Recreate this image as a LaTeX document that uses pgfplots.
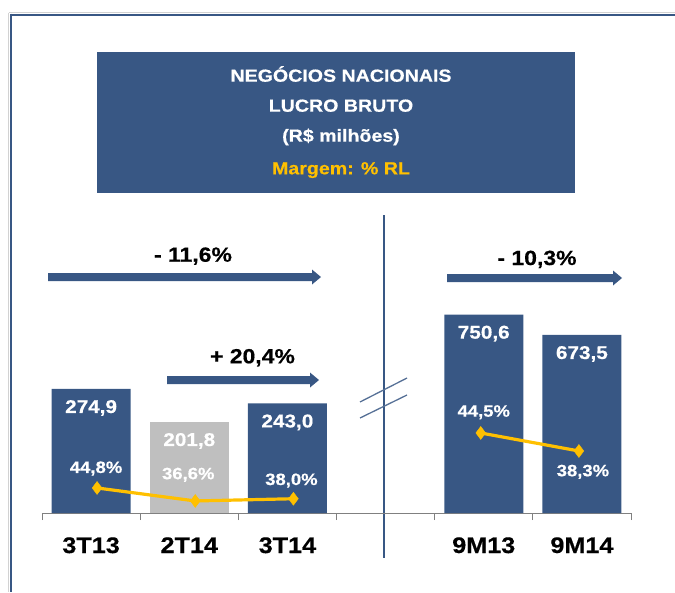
\documentclass[border=0pt]{standalone}
\usepackage{pgfplots}
\pgfplotsset{compat=1.18}
\usepackage{pgfplotstable}
\usepackage{fontspec}
\setmainfont{Liberation Sans}[FakeStretch=1.12, BoldFeatures={FakeBold=0.5}]

\definecolor{azul}{RGB}{56,87,132}
\definecolor{cinza}{RGB}{191,191,191}
\definecolor{ouro}{RGB}{255,192,0}

% lucro bruto (R$ milhoes)
\pgfplotstableread{
x v
0 274.9
2 243.0
}\lbazul
\pgfplotstableread{
x v
1 201.8
}\lbcinza
\pgfplotstableread{
x v
4 750.6
5 673.5
}\lbnove

% margem (% RL); dx/dy = deslocamento do rotulo
\pgfplotstableread{
x m dx dy
0 44.8 -1 15
1 36.6 -7 21.7
2 38.0 -2 13.7
}\mgtri
\pgfplotstableread{
x m dx dy
4 44.5 3 16.3
5 38.3 4 -25.3
}\mgnove

\pgfkeys{/pgf/number format/.cd, fixed, fixed zerofill, precision=1, use comma, assume math mode=true}

\pgfplotsset{
  painel/.style={scale only axis, width=589pt, height=240pt,
    xmin=-0.5, xmax=5.5, enlargelimits=false, clip=false, anchor=south west},
  barra/.style={draw=none, fill=#1, bar width=79pt, bar shift=0pt,
    nodes near coords,
    every node near coord/.append style={font=\fontsize{18.5}{21}\selectfont\bfseries,
      text=white, anchor=base, yshift=-24pt}},
  margem/.style={color=ouro, line width=3.2pt, mark=diamond*, mark size=6.5pt,
    mark options={solid, line width=0.4pt, fill=ouro},
    nodes near coords={\pgfmathprintnumber{\pgfplotspointmeta}\%},
    visualization depends on={\thisrow{dx} \as \rdx},
    visualization depends on={\thisrow{dy} \as \rdy},
    every node near coord/.append style={font=\fontsize{16.5}{19}\selectfont\bfseries,
      text=white, anchor=base, xshift=\rdx pt, yshift=\rdy pt}},
}

\begin{document}
\begin{tikzpicture}[x=1pt,y=1pt]
\path[use as bounding box] (0,0) rectangle (675,-592);

% moldura
\draw[gray!35, line width=1pt] (8.8,-12.5) -- (8.8,-592);
\draw[gray!35, line width=1pt] (8.8,-12.5) -- (675,-12.5);
\draw[azul, line width=2.4pt] (11,-13.5) -- (11,-592);
\draw[azul, line width=2.2pt] (10,-14.7) -- (675,-14.7);

% titulo
\fill[azul] (97,-52) rectangle (575,-193);
\begin{scope}[every node/.style={anchor=base, inner sep=0pt, font=\fontsize{17.5}{20}\selectfont\bfseries}]
\node[text=white] at (341,-81.7) {NEGÓCIOS NACIONAIS};
\node[text=white] at (341,-111.7) {LUCRO BRUTO};
\node[text=white] at (341,-141.7) {(R\$ milhões)};
\node[text=ouro] at (341,-174.3) {Margem: \% RL};
\end{scope}

% separador e quebra
\draw[azul, line width=1.2pt] (384,-215) -- (384,-558);
\draw[azul!85, line width=1.3pt] (360,-402) -- (407,-378);
\draw[azul!85, line width=1.3pt] (360,-418) -- (407,-395);

% barras 3T13 / 2T14 / 3T14 e eixo
\begin{axis}[painel, at={(42pt,-513pt)}, ybar, ymin=0, ymax=532,
  axis x line*=bottom, axis y line=none,
  x axis line style={draw=gray, line width=0.8pt},
  xtick={0,...,5}, xticklabels={3T13,2T14,3T14,{},9M13,9M14},
  minor xtick={-0.5,0.5,1.5,2.5,3.5,4.5,5.5},
  tick align=outside, major tick length=0pt, minor tick length=7pt,
  every tick/.style={gray, line width=0.8pt},
  xticklabel style={font=\fontsize{22.5}{26}\selectfont\bfseries, anchor=base, yshift=-40pt},
]
\addplot[barra=azul] table[x=x, y=v] {\lbazul};
\addplot[barra=cinza] table[x=x, y=v] {\lbcinza};
\end{axis}

% barras 9M13 / 9M14
\begin{axis}[painel, at={(42pt,-513pt)}, hide axis, ybar, ymin=0, ymax=908]
\addplot[barra=azul] table[x=x, y=v] {\lbnove};
\end{axis}

% margem trimestral
\begin{axis}[painel, at={(48pt,-513pt)}, hide axis, ymin=29.0, ymax=180.4]
\addplot[margem] table[x=x, y=m] {\mgtri};
\end{axis}

% margem 9 meses
\begin{axis}[painel, at={(39pt,-513pt)}, hide axis, ymin=16.94, ymax=99.6]
\addplot[margem] table[x=x, y=m] {\mgnove};
\end{axis}

% setas de variacao
\fill[azul] (48,-273) -- (312,-273) -- (312,-269.5) -- (321,-277) -- (312,-284.5) -- (312,-281) -- (48,-281) -- cycle;
\fill[azul] (167,-376) -- (310,-376) -- (310,-372.5) -- (319,-380) -- (310,-387.5) -- (310,-384) -- (167,-384) -- cycle;
\fill[azul] (447,-274) -- (613,-274) -- (613,-270.5) -- (622,-278) -- (613,-285.5) -- (613,-282) -- (447,-282) -- cycle;
\begin{scope}[every node/.style={anchor=base, inner sep=0pt, font=\fontsize{20.5}{24}\selectfont\bfseries}]
\node at (193,-261.7) {- 11,6\%};
\node at (252.5,-363.3) {+ 20,4\%};
\node at (537,-265) {- 10,3\%};
\end{scope}
\end{tikzpicture}
\end{document}
